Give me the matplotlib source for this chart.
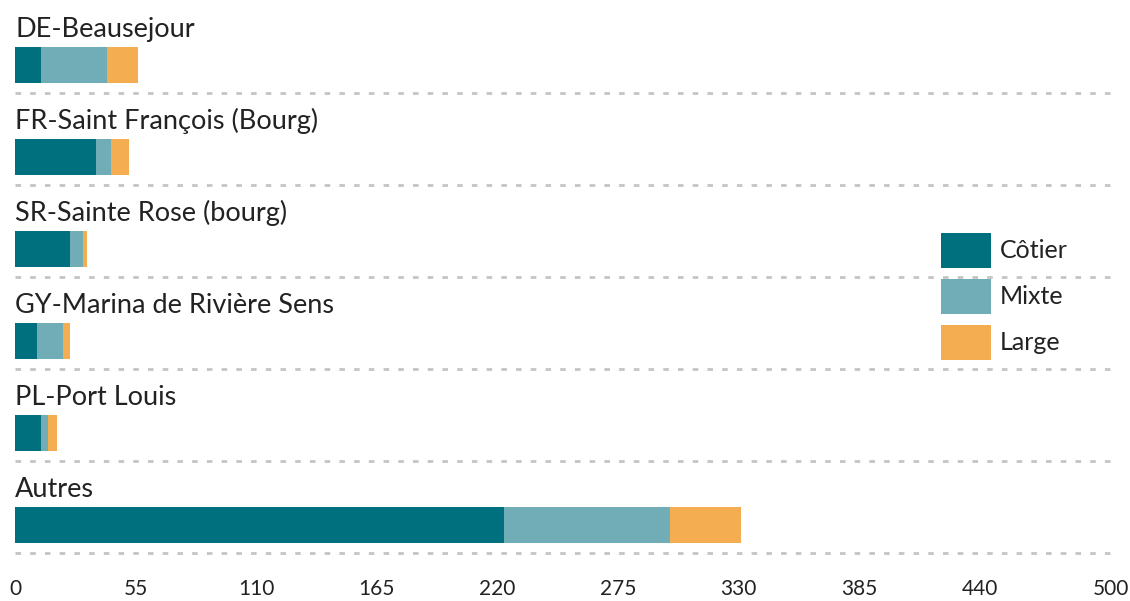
import matplotlib
matplotlib.use("Agg")
import matplotlib.pyplot as plt
from matplotlib.patches import Rectangle
from matplotlib import font_manager
import numpy as np

categories = ["DE-Beausejour", "FR-Saint François (Bourg)", "SR-Sainte Rose (bourg)",
              "GY-Marina de Rivière Sens", "PL-Port Louis", "Autres"]
series_names = ["Côtier", "Mixte", "Large"]
cotier = [12, 37, 25, 10, 12, 223]
mixte = [30, 7, 6, 12, 3, 76]
large = [14, 8, 2, 3, 4, 32]
xticks = [0, 55, 110, 165, 220, 275, 330, 385, 440, 500]
colors = ["#00707F", "#71ADB6", "#F5AD52"]

plt.rcParams['font.family'] = ['Lato', 'DejaVu Sans']
names = {f.name for f in font_manager.fontManager.ttflist}
tick_family = ['Liberation Sans Narrow', 'Lato'] if 'Liberation Sans Narrow' in names else ['Lato']

W, H = 1130, 601
fig = plt.figure(figsize=(W / 100, H / 100), dpi=100)
left_px, right_px = 15, 1111
top_px, bot_px = 1, 553
ax = fig.add_axes([left_px / W, (H - bot_px) / H, (right_px - left_px) / W, (bot_px - top_px) / H])
ax.set_xlim(0, 500)
ax.set_ylim(len(categories) - 0.5, -0.5)

band_px = (bot_px - top_px) / len(categories)
bar_h = 36 / band_px
bar_c_off = -0.5 + 64 / band_px
label_off = -0.5 + 36 / band_px

y = np.arange(len(categories))
lefts = np.zeros(len(categories))
for vals, col, name in zip([cotier, mixte, large], colors, series_names):
    ax.barh(y + bar_c_off, vals, left=lefts, height=bar_h, color=col, label=name, zorder=2)
    lefts = lefts + np.array(vals)

for i, cat in enumerate(categories):
    ax.text(0, i + label_off, cat, ha='left', va='baseline', fontsize=19.5, color='#222222')
    ax.plot([0, 500], [i + 0.5, i + 0.5], color='#C4C4C4', linestyle=(0, (2.0, 3.3)),
            linewidth=2.0, zorder=1, clip_on=False, solid_capstyle='butt')

for s in ax.spines.values():
    s.set_visible(False)
ax.set_yticks([])
ax.set_xticks(xticks)
ax.set_xticklabels([str(t) for t in xticks], fontsize=15, color='#222222', family=tick_family)
ax.tick_params(axis='x', length=0, pad=19)

# legend drawn in figure pixel coords
for k, (name, col) in enumerate(zip(series_names, colors)):
    ytop = 233 + k * 46
    rect = Rectangle((941 / W, (H - ytop - 35) / H), 50 / W, 35 / H, transform=fig.transFigure,
                     facecolor=col, edgecolor='none', zorder=5)
    fig.patches.append(rect)
    fig.text(1000 / W, (H - ytop - 17.5) / H, name, ha='left', va='center', fontsize=18,
             color='#222222')

fig.savefig("out.png", dpi=100)
